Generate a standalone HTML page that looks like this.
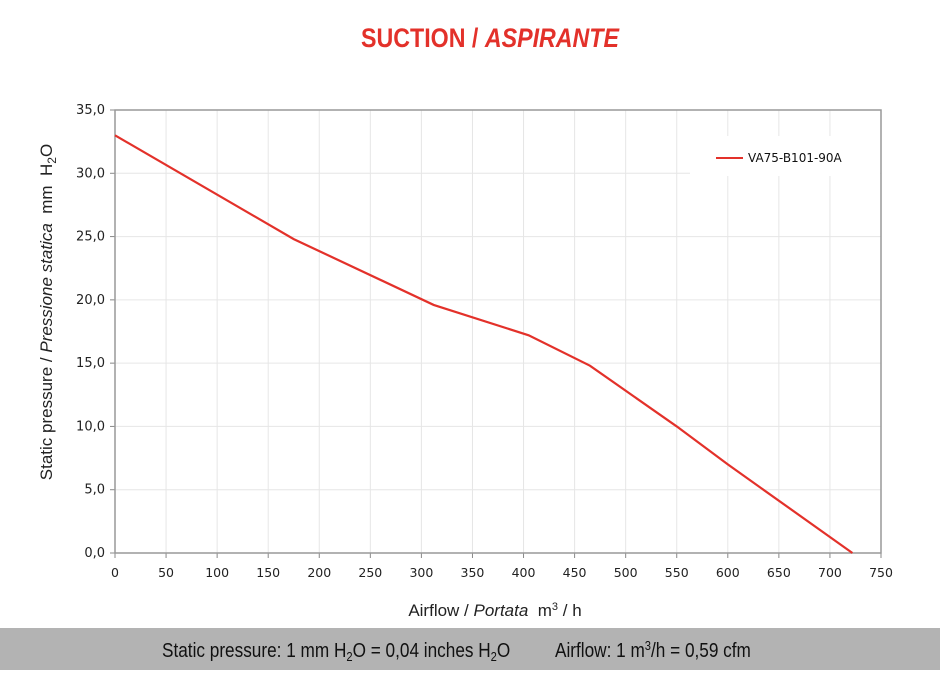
<!DOCTYPE html>
<html><head><meta charset="utf-8"><style>
body{margin:0;width:940px;height:670px;background:#fff;overflow:hidden;font-family:"Liberation Sans",sans-serif}
text{white-space:pre}
</style></head><body>
<svg width="940" height="670" xmlns="http://www.w3.org/2000/svg" xml:space="preserve">
<g transform="translate(490,0) scale(0.86,1)"><text x="0" y="47" text-anchor="middle" font-weight="bold" font-size="27" fill="#e3312a">SUCTION / <tspan font-style="italic">ASPIRANTE</tspan></text></g>
<g id="grid"></g>
<g id="axes"></g>
<rect x="690" y="136" width="190" height="40" fill="#fff"/>
<line x1="716" y1="158" x2="743" y2="158" stroke="#e3312a" stroke-width="2"/>
<text x="748" y="162" font-family="DejaVu Sans, sans-serif" font-size="12" fill="#111">VA75-B101-90A</text>
<path id="line" fill="none" stroke="#e3312a" stroke-width="2.2"/>
<text transform="translate(52,312) rotate(-90)" text-anchor="middle" font-size="17" fill="#222">Static pressure / <tspan font-style="italic">Pressione statica</tspan>  mm  H<tspan font-size="12" dy="4">2</tspan><tspan dy="-4">O</tspan></text>
<text x="495" y="616" text-anchor="middle" font-size="17" fill="#222">Airflow / <tspan font-style="italic">Portata</tspan>  m<tspan font-size="11" dy="-6">3</tspan><tspan dy="6"> / h</tspan></text>
<rect x="0" y="628" width="940" height="42" fill="#b3b3b3"/>
<g transform="translate(162,0) scale(0.86,1)"><text x="0" y="657" font-size="20" fill="#111">Static pressure: 1 mm H<tspan font-size="13" dy="4">2</tspan><tspan dy="-4">O = 0,04 inches H</tspan><tspan font-size="13" dy="4">2</tspan><tspan dy="-4">O</tspan></text></g>
<g transform="translate(555,0) scale(0.86,1)"><text x="0" y="657" font-size="20" fill="#111">Airflow: 1 m<tspan font-size="13" dy="-7">3</tspan><tspan dy="7">/h = 0,59 cfm</tspan></text></g>
</svg>
<script>
const airflow=[0,175,312,405,465,550,600,722];
const pressure=[33.0,24.8,19.6,17.2,14.8,10.0,7.0,0];
const xTicks=[0,50,100,150,200,250,300,350,400,450,500,550,600,650,700,750];
const yTicks=[0,5,10,15,20,25,30,35];
const X0=115,X1=881,Y0=553,Y1=110;
const sx=v=>X0+(v/750)*(X1-X0);
const sy=v=>Y0-(v/35)*(Y0-Y1);
const NS="http://www.w3.org/2000/svg";
const grid=document.getElementById('grid'),axes=document.getElementById('axes');
function mk(p,tag,attrs){const e=document.createElementNS(NS,tag);for(const k in attrs)e.setAttribute(k,attrs[k]);p.appendChild(e);return e;}
xTicks.forEach(t=>{
 const g=mk(grid,'line',{x1:sx(t),x2:sx(t),y1:Y1,y2:Y0,stroke:'#e6e6e6','stroke-width':1});
 
 
 const tk=mk(axes,'line',{x1:sx(t),x2:sx(t),y1:Y0,y2:Y0+5,stroke:'#888'});
 
 
 const tx=mk(axes,'text',{x:sx(t),y:Y0+24,'text-anchor':'middle','font-family':'DejaVu Sans, sans-serif','font-size':'12.5',fill:'#222'});
 tx.textContent=t;
 
 
});
yTicks.forEach(t=>{
 const g=mk(grid,'line',{x1:X0,x2:X1,y1:sy(t),y2:sy(t),stroke:'#e6e6e6','stroke-width':1});
 
 
 const tk=mk(axes,'line',{x1:X0-5,x2:X0,y1:sy(t),y2:sy(t),stroke:'#888'});
 
 
 const tx=mk(axes,'text',{x:X0-10,y:sy(t)+4,'text-anchor':'end','font-family':'DejaVu Sans, sans-serif','font-size':'13',fill:'#222'});
 tx.textContent=t.toFixed(1).replace('.',',');
 
 
});
const fr=mk(axes,'rect',{x:X0,y:Y1,width:X1-X0,height:Y0-Y1,fill:'none',stroke:'#999','stroke-width':1.5});


document.getElementById('line').setAttribute('d',airflow.map((a,i)=>(i?'L':'M')+sx(a)+','+sy(pressure[i])).join(' '));
</script>
</body></html>
